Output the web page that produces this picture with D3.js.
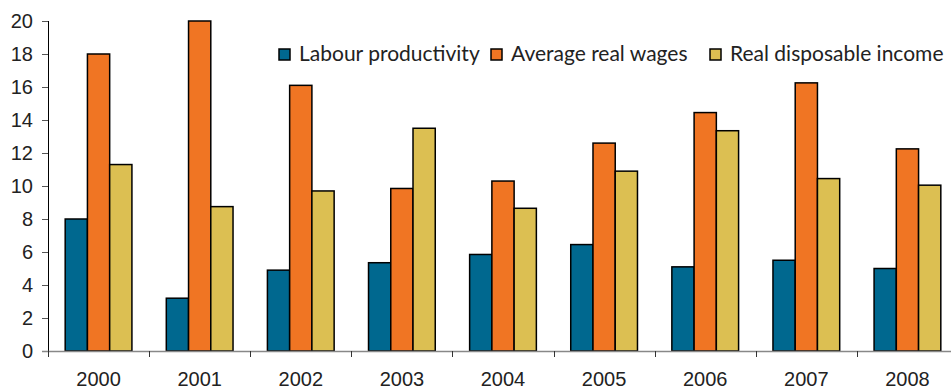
<!DOCTYPE html>
<html>
<head>
<meta charset="utf-8">
<script src="https://cdn.jsdelivr.net/npm/d3@7"></script>
<style>
  body { margin: 0; background: #fff; }
  svg { display: block; font-family: Lato, "Open Sans", sans-serif; }
</style>
</head>
<body>
<svg width="951" height="390"></svg>
<script>
// data
var years = ["2000", "2001", "2002", "2003", "2004", "2005", "2006", "2007", "2008"];
var seriesNames = ["Labour productivity", "Average real wages", "Real disposable income"];
var labourProductivity = [8.0, 3.2, 4.9, 5.35, 5.85, 6.45, 5.1, 5.5, 5.0];
var averageRealWages = [18.0, 20.0, 16.1, 9.85, 10.3, 12.6, 14.45, 16.25, 12.25];
var realDisposableIncome = [11.3, 8.75, 9.7, 13.5, 8.65, 10.9, 13.35, 10.45, 10.05];
var yTicks = [0, 2, 4, 6, 8, 10, 12, 14, 16, 18, 20];
var colors = ["#00688f", "#f07523", "#dcbf52"];

var allSeries = [labourProductivity, averageRealWages, realDisposableIncome];
var rows = years.map(function(y, i) {
  return { year: y, values: allSeries.map(function(s, k) { return { key: k, value: s[i] }; }) };
});

var svg = d3.select("svg");
// plot box (note: "top" is a reserved window global, so use other names)
var plotLeft = 48, plotRight = 958, plotTop = 21, plotBottom = 351;

// scales
var xCat = d3.scaleBand().domain(years).range([plotLeft, plotRight]).padding(0);
var x0 = d3.scaleBand().domain(years).range([plotLeft, plotRight]).paddingInner(0.34).paddingOuter(0.17);
var x1 = d3.scaleBand().domain(d3.range(seriesNames.length)).range([0, x0.bandwidth()]);
var y = d3.scaleLinear().domain([0, 20]).range([plotBottom, plotTop]);

// bars
var groups = svg.selectAll(".grp")
  .data(rows)
  .enter().append("g")
    .attr("class", "grp")
    .attr("transform", function(d) { return "translate(" + x0(d.year) + ",0)"; });

groups.selectAll("rect")
  .data(function(d) { return d.values; })
  .enter().append("rect")
    .attr("x", function(d) { return x1(d.key); })
    .attr("y", function(d) { return y(d.value); })
    .attr("width", x1.bandwidth())
    .attr("height", function(d) { return y(0) - y(d.value); })
    .attr("fill", function(d) { return colors[d.key]; })
    .attr("stroke", "#000")
    .attr("stroke-width", 1.5);

// y axis
var yAxis = svg.append("g")
  .attr("transform", "translate(" + plotLeft + ",0)")
  .call(d3.axisLeft(y).tickValues(yTicks).tickSize(6).tickPadding(9).tickFormat(d3.format("d")));
yAxis.select(".domain").attr("stroke", "#000").attr("d", "M0.5," + plotTop + "V" + plotBottom);
yAxis.selectAll(".tick line").attr("stroke", "#555");
yAxis.selectAll(".tick text").attr("font-size", 20).attr("fill", "#222");

// x axis: grey baseline, ticks between categories, labels centred
var xAxis = svg.append("g")
  .attr("transform", "translate(0," + plotBottom + ")")
  .call(d3.axisBottom(xCat).tickSize(0).tickPadding(21));
xAxis.select(".domain").remove();
xAxis.selectAll(".tick text").attr("font-size", 20).attr("fill", "#222");

svg.append("line")
  .attr("x1", plotLeft - 6).attr("x2", plotRight)
  .attr("y1", plotBottom + 0.5).attr("y2", plotBottom + 0.5)
  .attr("stroke", "#888").attr("stroke-width", 1.5);

svg.selectAll(".xtick")
  .data(years)
  .enter().append("line")
    .attr("class", "xtick")
    .attr("x1", function(d) { return Math.round(xCat(d)) + 0.5; })
    .attr("x2", function(d) { return Math.round(xCat(d)) + 0.5; })
    .attr("y1", plotBottom).attr("y2", plotBottom + 6)
    .attr("stroke", "#333");

// legend (item positions)
var legendX = [279, 491, 710];
var legend = svg.append("g");
seriesNames.forEach(function(name, i) {
  legend.append("rect")
    .attr("x", legendX[i]).attr("y", 49)
    .attr("width", 11).attr("height", 11)
    .attr("fill", colors[i]).attr("stroke", "#000").attr("stroke-width", 1.5);
  legend.append("text")
    .attr("x", legendX[i] + 20).attr("y", 61)
    .attr("font-size", 21).attr("fill", "#222")
    .text(name);
});
</script>
</body>
</html>
